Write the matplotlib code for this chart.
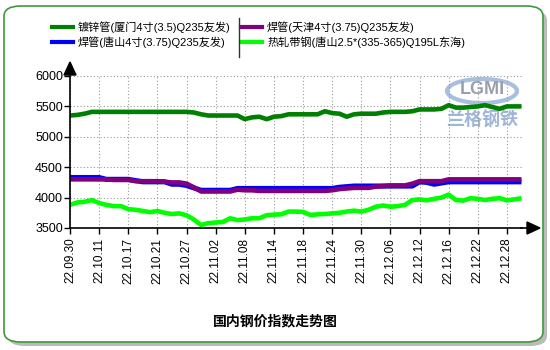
import matplotlib
matplotlib.use('Agg')
import matplotlib.pyplot as plt
from matplotlib.patches import FancyBboxPatch, Ellipse

plt.rcParams['font.family'] = ['Liberation Sans', 'Noto Sans CJK SC', 'DejaVu Sans']

# tick labels (every 4th trading day)
tick_labels = ['22.09.30', '22.10.11', '22.10.17', '22.10.21', '22.10.27', '22.11.02',
               '22.11.08', '22.11.14', '22.11.18', '22.11.24', '22.11.30', '22.12.06',
               '22.12.12', '22.12.16', '22.12.22', '22.12.28']

# 镀锌管(厦门)
galv_xiamen = [5350, 5360, 5380, 5410, 5410, 5410, 5410, 5410, 5410, 5410, 5410, 5410, 5410,
               5410, 5410, 5410, 5410, 5400, 5370, 5350, 5350, 5350, 5350, 5350, 5290, 5320,
               5330, 5290, 5330, 5340, 5370, 5370, 5370, 5370, 5370, 5420, 5390, 5380, 5330,
               5370, 5380, 5380, 5380, 5400, 5410, 5410, 5410, 5420, 5450, 5450, 5450, 5460,
               5520, 5480, 5480, 5490, 5500, 5520, 5490, 5460, 5500, 5500, 5500]
# 焊管(唐山)
weld_tangshan = [4330, 4330, 4330, 4330, 4330, 4300, 4300, 4300, 4300, 4280, 4260, 4260, 4260,
                 4260, 4220, 4220, 4200, 4160, 4120, 4120, 4120, 4120, 4120, 4150, 4150, 4150,
                 4150, 4150, 4150, 4150, 4150, 4150, 4150, 4150, 4150, 4150, 4150, 4170, 4180,
                 4190, 4190, 4190, 4190, 4190, 4190, 4190, 4190, 4190, 4260, 4250, 4220, 4240,
                 4260, 4260, 4260, 4260, 4260, 4260, 4260, 4260, 4260, 4260, 4260]
# 焊管(天津)
weld_tianjin = [4300, 4300, 4300, 4300, 4300, 4300, 4290, 4290, 4290, 4270, 4270, 4270, 4270,
                4260, 4250, 4250, 4230, 4170, 4100, 4100, 4100, 4100, 4100, 4130, 4120, 4120,
                4110, 4110, 4110, 4110, 4110, 4110, 4110, 4110, 4110, 4110, 4120, 4140, 4150,
                4160, 4160, 4160, 4180, 4190, 4200, 4200, 4200, 4230, 4270, 4270, 4270, 4270,
                4300, 4300, 4300, 4300, 4300, 4300, 4300, 4300, 4300, 4300, 4300]
# 热轧带钢(唐山)
hot_strip = [3880, 3920, 3930, 3960, 3910, 3880, 3860, 3860, 3810, 3800, 3780, 3760, 3780,
             3750, 3730, 3740, 3710, 3640, 3550, 3580, 3590, 3600, 3660, 3630, 3640, 3660,
             3660, 3710, 3720, 3725, 3770, 3770, 3765, 3715, 3725, 3730, 3740, 3750, 3770,
             3785, 3770, 3800, 3850, 3870, 3850, 3860, 3880, 3960, 3970, 3955, 3980, 4000,
             4050, 3960, 3950, 3990, 3980, 3960, 3980, 3990, 3955, 3970, 3990]

series = [
    ('镀锌管(厦门4寸(3.5)Q235友发)', galv_xiamen, '#008000'),
    ('焊管(唐山4寸(3.75)Q235友发)', weld_tangshan, '#0000ff'),
    ('焊管(天津4寸(3.75)Q235友发)', weld_tianjin, '#800080'),
    ('热轧带钢(唐山2.5*(335-365)Q195L东海)', hot_strip, '#00ff00'),
]

W, H = 550, 350
fig = plt.figure(figsize=(5.5, 3.5), dpi=100)
fig.patch.set_facecolor('white')

# outer rounded frame with shadow
shadow = FancyBboxPatch((8 / W, 4 / H), 539 / W, 336 / H, boxstyle='round,pad=0,rounding_size=0.03',
                        transform=fig.transFigure, facecolor='#bbbbbb', edgecolor='none', zorder=-2)
frame = FancyBboxPatch((4 / W, 8 / H), 539 / W, 336 / H, boxstyle='round,pad=0,rounding_size=0.03',
                       transform=fig.transFigure, facecolor='white', edgecolor='#3d9a3d', lw=1.2, zorder=-1)
fig.patches.extend([shadow, frame])

# watermark (behind the lines)
fig.patches.append(Ellipse((482 / W, 1 - 91 / H), 70 / W, 24 / H, transform=fig.transFigure,
                           facecolor='none', edgecolor='#a9bfdf', lw=3, zorder=-0.5))
fig.text(482 / W, 1 - 90 / H, 'LGMI', fontsize=13, color='#9aa0aa', ha='center', va='center',
         fontweight='bold', zorder=-0.5)
fig.text(482 / W, 1 - 121 / H, '兰格钢铁', fontsize=13, color='#9fb6d8', ha='center', va='center',
         style='italic', fontweight='bold', zorder=-0.5)

ax = fig.add_axes([70 / W, 1 - 228 / H, (521.5 - 70) / W, (228 - 76) / H])
ax.set_facecolor('none')
x = list(range(len(galv_xiamen)))
for name, vals, col in series:
    lw = 3.3 if col != '#0000ff' else 3.7
    ax.plot(x, vals, color=col, lw=lw, solid_capstyle='butt')

ax.set_xlim(0, len(x) - 1)
ax.set_ylim(3500, 6000)
ax.set_yticks([3500, 4000, 4500, 5000, 5500, 6000])
ax.set_xticks(range(0, 4 * len(tick_labels), 4))
ax.set_xticklabels(tick_labels, rotation=90, fontsize=8.5)
ax.tick_params(axis='y', labelsize=9, length=4, width=1, pad=1)
ax.tick_params(axis='x', length=4, width=1, pad=3)
ax.grid(True, color='#999999', ls=(0, (1, 2)), lw=0.8)
for s in ['top', 'right']:
    ax.spines[s].set_visible(False)
for s in ['left', 'bottom']:
    ax.spines[s].set_linewidth(1.2)
ax.set_axisbelow(True)

# axis arrows
fig.add_artist(plt.Polygon([[70 / W, 1 - 62 / H], [64 / W, 1 - 75 / H], [76 / W, 1 - 75 / H]],
                           closed=True, color='black', transform=fig.transFigure))
fig.add_artist(plt.Line2D([521 / W, 530 / W], [1 - 228 / H, 1 - 228 / H], color='black', lw=1.2,
                          transform=fig.transFigure))
fig.add_artist(plt.Polygon([[540 / W, 1 - 228 / H], [527 / W, 1 - 222 / H], [527 / W, 1 - 234 / H]],
                           closed=True, color='black', transform=fig.transFigure))

# legend
leg_pos = [(52, 27), (52, 42), (241, 27), (241, 42)]
for (name, vals, col), (lx, ly) in zip(series, leg_pos):
    fig.add_artist(plt.Line2D([lx / W, (lx + 21) / W], [1 - ly / H, 1 - ly / H], color=col, lw=3,
                              transform=fig.transFigure))
    fig.text((lx + 26) / W, 1 - ly / H, name, fontsize=8, va='center', ha='left')
fig.add_artist(plt.Line2D([238.5 / W, 238.5 / W], [1 - 18 / H, 1 - 57 / H], color='#333333', lw=1,
                          transform=fig.transFigure))

fig.text(275 / W, 1 - 321 / H, '国内钢价指数走势图', fontsize=10, fontweight='bold',
         ha='center', va='center')

fig.savefig('out.png', dpi=100)
